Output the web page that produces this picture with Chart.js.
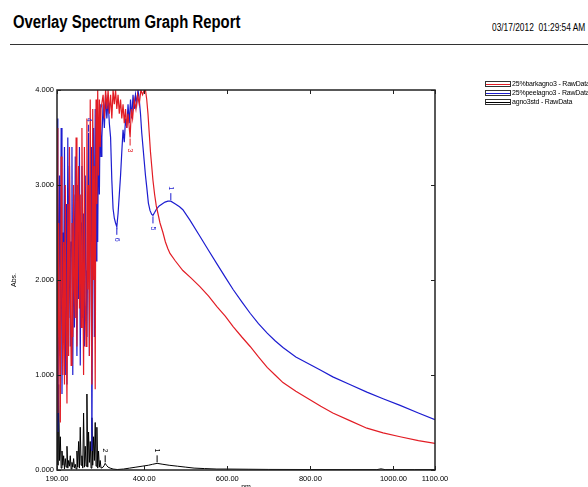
<!DOCTYPE html>
<html>
<head>
<meta charset="utf-8">
<script src="https://cdn.jsdelivr.net/npm/chart.js@4/dist/chart.umd.min.js"></script>
<style>
  html, body { margin: 0; padding: 0; background: #fff; }
  body { width: 588px; height: 487px; overflow: hidden; position: relative; font-family: "Liberation Sans", Arial, sans-serif; color: #000; }
  #spectrum { position: absolute; left: 0; top: 0; }
  .report-title { position: absolute; left: 13px; top: 14px; font-size: 17.5px; line-height: 17.5px; font-weight: bold; white-space: nowrap; transform-origin: 0 0; }
  .report-date { position: absolute; left: 492px; top: 22px; font-size: 10.5px; line-height: 10.5px; white-space: nowrap; transform-origin: 0 0; }
  .rule { position: absolute; left: 10px; top: 44px; width: 578px; height: 1px; background: #333; }
  .legend { position: absolute; left: 485px; top: 80px; font-size: 7px; white-space: nowrap; }
  .legend-row { height: 9px; position: relative; }
  .legend-box { position: absolute; left: 0; top: 1px; width: 24px; height: 4px; border: 1px solid #333; background: #fff; }
  .legend-box i { position: absolute; left: 0; right: 0; top: 1.5px; height: 1px; }
  .legend-row span { position: absolute; left: 27px; top: 0; line-height: 8px; font-family: "Liberation Sans Narrow", "Liberation Sans", Arial, sans-serif; letter-spacing: -0.2px; }
</style>
</head>
<body>
<div class="report-title" id="title">Overlay Spectrum Graph Report</div>
<div class="report-date" id="date">03/17/2012&nbsp;&nbsp;01:29:54 AM</div>
<div class="rule"></div>
<canvas id="spectrum" width="588" height="487"></canvas>
<div class="legend" id="legend"></div>
<script>
// wavelength grid of the noisy UV part (nm)
const noiseWl = [190, 192, 194, 196, 198, 200, 202, 204, 206, 208, 210, 212, 214, 216, 218, 220, 222, 224,
                 226, 228, 230, 232, 234, 236, 238, 240, 242, 244, 246, 248, 250, 252, 254, 256, 258, 260,
                 262, 264, 266, 268, 270, 272, 274, 276, 278, 280, 282, 284, 286, 288, 290, 292, 294, 296];

// 25%barkagno3 (red)
const barkNoise = [3.6, 0.6, 2.6, 1.4, 0.5, 3.3, 1.9, 1.0, 2.4, 0.9, 3.0, 1.5, 0.7, 2.8, 1.2, 3.4, 2.0, 1.1,
                   2.6, 1.4, 3.0, 1.9, 1.6, 3.5, 1.3, 2.5, 3.2, 1.7, 2.9, 1.5, 3.6, 2.2, 1.0, 3.4, 1.8, 1.3,
                   3.7, 1.9, 3.0, 1.2, 3.9, 2.4, 0.9, 3.8, 2.0, 3.2, 0.85, 3.9, 2.8, 4.0, 3.1, 3.9, 3.4, 3.8];
const barkWl = [298, 301, 304, 307, 310, 313, 316, 319, 322, 325, 328, 331, 334, 337, 340, 343, 346, 349,
                352, 355, 358, 361, 364, 366, 369, 372, 376, 380, 384, 388, 392, 396, 400, 403, 406, 409,
                412, 415, 418, 421, 425, 429, 433, 438, 445, 451, 457, 462, 475, 493, 513, 534, 555, 575,
                595, 614, 635, 655, 675, 696, 715, 734, 765, 799, 825, 854, 895, 936, 975, 1016, 1060, 1100];
const barkAbs = [3.8, 3.95, 3.7, 4.0, 3.8, 4.0, 3.75, 3.95, 3.7, 4.0, 3.85, 4.0, 3.8, 3.95, 3.75, 3.9, 3.7, 3.85,
                 3.65, 3.8, 3.6, 3.75, 3.6, 3.5, 3.8, 3.7, 3.9, 3.8, 3.95, 3.85, 4.0, 3.95, 4.0, 4.0, 3.9, 3.75,
                 3.55, 3.35, 3.2, 3.05, 2.9, 2.78, 2.7, 2.6, 2.5, 2.4, 2.33, 2.28, 2.2, 2.1, 2.02, 1.93, 1.83, 1.72,
                 1.62, 1.51, 1.4, 1.3, 1.19, 1.08, 1.0, 0.92, 0.83, 0.74, 0.67, 0.6, 0.52, 0.44, 0.39, 0.35, 0.31, 0.28];

// 25%peelagno3 (blue)
const peelNoise = [3.7, 0.4, 2.2, 3.1, 1.2, 3.6, 0.8, 2.5, 1.9, 3.4, 1.0, 2.8, 0.9, 3.5, 1.6, 3.2, 1.3, 2.4,
                   3.4, 1.0, 2.9, 1.5, 3.3, 2.0, 1.2, 3.0, 1.8, 3.4, 1.1, 2.6, 3.2, 1.6, 2.7, 1.3, 3.1, 2.1,
                   1.4, 2.4, 3.55, 1.2, 2.9, 3.4, 0.2, 2.6, 3.6, 1.4, 3.8, 2.2, 3.5, 2.4, 3.7, 2.9, 3.85, 3.3];
const peelWl = [298, 301, 304, 307, 310, 313, 316, 319, 322, 325, 328, 331, 334, 337, 340, 343, 346, 349,
                352, 355, 358, 361, 364, 367, 370, 373, 376, 379, 382, 385, 388, 391, 394, 397, 400, 403,
                406, 410, 414, 418, 421, 425, 430, 436, 443, 450, 457, 464, 475, 485, 493, 510, 534, 555,
                575, 595, 614, 635, 655, 675, 696, 715, 734, 765, 799, 825, 854, 895, 936, 975, 1016, 1060, 1100];
const peelAbs = [3.5, 3.85, 3.6, 3.95, 3.7, 3.9, 3.65, 3.5, 3.05, 2.75, 2.65, 2.6, 2.56, 2.7, 2.9, 3.1, 3.35, 3.58,
                 3.45, 3.7, 3.6, 3.85, 3.65, 3.9, 3.7, 3.95, 3.8, 3.95, 3.85, 4.0, 3.9, 3.75, 3.55, 3.4, 3.25, 3.1,
                 2.98, 2.81, 2.73, 2.69, 2.68, 2.71, 2.75, 2.78, 2.8, 2.82, 2.83, 2.83, 2.8, 2.77, 2.74, 2.63, 2.46, 2.31,
                 2.17, 2.03, 1.9, 1.77, 1.65, 1.54, 1.44, 1.36, 1.29, 1.19, 1.11, 1.05, 0.98, 0.9, 0.82, 0.75, 0.68, 0.6, 0.53];

// agno3std (black)
const stdNoise = [1.4, 0.05, 0.9, 0.1, 0.35, 0.02, 0.2, 0.05, 0.15, 0.01, 0.12, 0.03, 0.25, 0.02, 0.1, 0.04, 0.15, 0.01,
                  0.08, 0.03, 0.12, 0.02, 0.06, 0.01, 0.2, 0.03, 0.3, 0.02, 0.45, 0.05, 0.15, 0.02, 0.6, 0.03, 0.25, 0.04,
                  0.8, 0.03, 0.4, 0.08, 0.3, 0.02, 0.55, 0.05, 0.35, 0.1, 0.5, 0.04, 0.45, 0.02, 0.2, 0.03, 0.1, 0.02];
const stdWl = [298, 301, 304, 306, 309, 313, 318, 325, 335, 350, 365, 380, 395, 410, 420, 431, 445, 460,
               480, 500, 520, 545, 575, 600, 650, 700, 800, 900, 960, 970, 980, 1050, 1100];
const stdAbs = [0.02, 0.03, 0.05, 0.07, 0.05, 0.03, 0.02, 0.01, 0.005, 0.01, 0.02, 0.03, 0.04, 0.05, 0.06, 0.07, 0.06, 0.05,
                0.04, 0.03, 0.02, 0.015, 0.01, 0.01, 0.008, 0.006, 0.005, 0.004, 0.004, 0.012, 0.004, 0.004, 0.004];

// peak picks: [wavelength, label, side]
const barkPeaks = [[366, '3', 'down']];
const peelPeaks = [[464, '1', 'up'], [421, '5', 'down'], [334, '6', 'down'], [266, '4', 'up']];
const stdPeaks = [[306, '2', 'up'], [431, '1', 'up']];

const xTicks = [190, 400, 600, 800, 1000, 1100];
const yTicks = [0, 1, 2, 3, 4];

const seriesNames = ['25%barkagno3 - RawData', '25%peelagno3 - RawData', 'agno3std - RawData'];
const seriesColors = ['rgb(226,28,36)', 'rgb(28,28,208)', '#000'];

function toPoints(wl, abs) {
    return wl.map((w, i) => ({ x: w, y: abs[i] }));
}

const barkData = toPoints(noiseWl.concat(barkWl), barkNoise.concat(barkAbs));
const peelData = toPoints(noiseWl.concat(peelWl), peelNoise.concat(peelAbs));
const stdData = toPoints(noiseWl.concat(stdWl), stdNoise.concat(stdAbs));

// header text is a condensed face in the report, squeeze to the same width
function squeeze(id, width) {
    const el = document.getElementById(id);
    el.style.transform = `scaleX(${width / el.offsetWidth})`;
}
squeeze('title', 227);
squeeze('date', 93);

// legend
const legend = document.getElementById('legend');
seriesNames.forEach((name, i) => {
    legend.insertAdjacentHTML('beforeend',
        `<div class="legend-row"><div class="legend-box"><i style="background:${seriesColors[i]}"></i></div><span>${name}</span></div>`);
});

const tickFont = { family: '"Liberation Sans", Arial, sans-serif', size: 7.5 };

// frame, inward tick marks, axis titles and peak labels
const framePlugin = {
    id: 'frame',
    afterDatasetsDraw(chart) {
        const { ctx, chartArea: a, scales } = chart;
        ctx.save();
        ctx.strokeStyle = '#222';
        ctx.lineWidth = 1.5;
        ctx.strokeRect(a.left, a.top, a.right - a.left, a.bottom - a.top);

        ctx.lineWidth = 1;
        ctx.beginPath();
        xTicks.forEach(v => {
            const px = Math.round(scales.x.getPixelForValue(v)) + 0.5;
            ctx.moveTo(px, a.bottom); ctx.lineTo(px, a.bottom - 4);
            ctx.moveTo(px, a.top); ctx.lineTo(px, a.top + 4);
        });
        yTicks.forEach(v => {
            const py = Math.round(scales.y.getPixelForValue(v)) + 0.5;
            ctx.moveTo(a.left, py); ctx.lineTo(a.left + 4, py);
            ctx.moveTo(a.right, py); ctx.lineTo(a.right - 4, py);
        });
        ctx.stroke();

        // axis titles
        ctx.fillStyle = '#000';
        ctx.font = '7px "Liberation Sans", Arial, sans-serif';
        ctx.textAlign = 'center';
        ctx.textBaseline = 'middle';
        ctx.save();
        ctx.translate(14, 280);
        ctx.rotate(-Math.PI / 2);
        ctx.fillText('Abs.', 0, 0);
        ctx.restore();
        ctx.textBaseline = 'top';
        ctx.fillText('nm', 246, 484);

        // peak picks
        const groups = [[barkPeaks, barkWl, barkAbs, seriesColors[0]],
                        [peelPeaks, noiseWl.concat(peelWl), peelNoise.concat(peelAbs), seriesColors[1]],
                        [stdPeaks, stdWl, stdAbs, seriesColors[2]]];
        groups.forEach(([peaks, wl, abs, color]) => {
            peaks.forEach(([w, label, side]) => {
                const idx = wl.indexOf(w);
                const px = scales.x.getPixelForValue(w);
                const py = scales.y.getPixelForValue(abs[idx]);
                const dir = side === 'up' ? -1 : 1;
                ctx.strokeStyle = color;
                ctx.fillStyle = color;
                ctx.beginPath();
                ctx.moveTo(px, py + dir * 1);
                ctx.lineTo(px, py + dir * 8);
                ctx.stroke();
                ctx.save();
                ctx.translate(px, py + dir * 13);
                ctx.rotate(Math.PI / 2);
                ctx.textBaseline = 'middle';
                ctx.fillText(label, 0, 0);
                ctx.restore();
            });
        });
        ctx.restore();
    }
};

const ctx = document.getElementById('spectrum').getContext('2d');
new Chart(ctx, {
    type: 'line',
    data: {
        datasets: [
            { label: seriesNames[0], data: barkData, borderColor: seriesColors[0], borderWidth: 1.2, pointRadius: 0, tension: 0 },
            { label: seriesNames[1], data: peelData, borderColor: seriesColors[1], borderWidth: 1.2, pointRadius: 0, tension: 0 },
            { label: seriesNames[2], data: stdData, borderColor: seriesColors[2], borderWidth: 1, pointRadius: 0, tension: 0 }
        ]
    },
    options: {
        responsive: false,
        animation: false,
        layout: { padding: { top: 90, right: 153, left: 0, bottom: 0 } },
        plugins: {
            legend: { display: false },
            tooltip: { enabled: false }
        },
        scales: {
            x: {
                type: 'linear',
                min: 190,
                max: 1100,
                grid: { display: false, drawTicks: false },
                border: { display: false },
                afterBuildTicks: s => { s.ticks = xTicks.map(v => ({ value: v })); },
                afterFit: s => { s.height = 17; },
                ticks: {
                    color: '#000',
                    font: tickFont,
                    padding: 4,
                    maxRotation: 0,
                    autoSkip: false,
                    callback: v => v.toFixed(2)
                }
            },
            y: {
                min: 0,
                max: 4,
                grid: { display: false, drawTicks: false },
                border: { display: false },
                afterBuildTicks: s => { s.ticks = yTicks.map(v => ({ value: v })); },
                afterFit: s => { s.width = 57; },
                ticks: {
                    color: '#000',
                    font: tickFont,
                    padding: 3,
                    callback: v => v.toFixed(3)
                }
            }
        }
    },
    plugins: [framePlugin]
});
</script>
</body>
</html>
